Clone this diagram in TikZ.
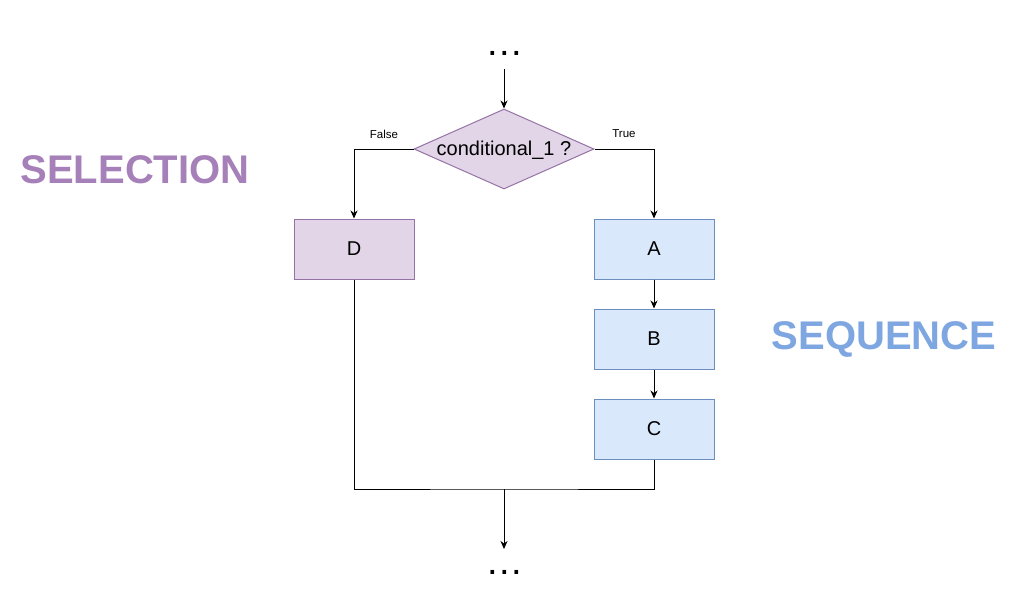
\documentclass[tikz,border=0pt]{standalone}
\usepackage{fontspec}
\setmainfont{Liberation Sans}
\usetikzlibrary{arrows.meta,shapes.geometric}
\definecolor{purpfill}{HTML}{E1D5E7}
\definecolor{purpline}{HTML}{9673A6}
\definecolor{bluefill}{HTML}{DAE8FC}
\definecolor{blueline}{HTML}{6C8EBF}
\definecolor{seltext}{HTML}{A680B8}
\definecolor{seqtext}{HTML}{7EA6E0}
\newcommand{\spaceddots}{.\hspace{1.3pt}.\hspace{1.3pt}.}
\begin{document}
\begin{tikzpicture}[x=1pt,y=-1pt,
  stepbox/.style={draw, line width=1pt, minimum width=120pt, minimum height=60pt,
    inner sep=0pt, font=\fontsize{20}{24}\selectfont},
  selbox/.style={stepbox, fill=purpfill, draw=purpline},
  seqbox/.style={stepbox, fill=bluefill, draw=blueline},
  flow/.style={line width=1pt, black},
  arr/.style={flow, -{Stealth[length=8pt,width=7pt,inset=2.5pt]}},
  branch/.style={font=\fontsize{11.5}{13}\selectfont},
  title/.style={font=\bfseries\fontsize{40}{46}\selectfont, anchor=base},
  more/.style={font=\fontsize{38}{44}\selectfont, anchor=base}]
\useasboundingbox (0,0) rectangle (1017,608);

% continuation marks above and below
\node[more] (topdots) at (505,55) {\spaceddots};
\node[more] (botdots) at (505,574) {\spaceddots};
\coordinate (topin) at (504,69);
\coordinate (botout) at (504,549);

% decision
\node[diamond, draw=purpline, fill=purpfill, line width=1pt, inner sep=0pt,
  minimum width=180pt, minimum height=80pt] (cond) at (504,149) {};
\node[font=\fontsize{20}{24}\selectfont] (condtext) at (504,150.5) {conditional\_1 ?};
\node[branch] (falselbl) at (384,134) {False};
\node[branch] (truelbl) at (624,134) {True};

% branches
\node[selbox] (D) at (354,249) {D};
\node[seqbox] (A) at (654,249) {A};
\node[seqbox] (B) at (654,339) {B};
\node[seqbox] (C) at (654,429) {C};

% section titles
\node[title, text=seltext] (seltitle) at (135,183) {SELECTION};
\node[title, text=seqtext] (seqtitle) at (884,349) {SEQUENCE};

% connectors
\coordinate (join) at (504,489);
\draw[arr] (topin) -- (cond.north);
\draw[arr] (cond.west) -| (D.north);
\draw[arr] (cond.east) -| (A.north);
\draw[arr] (A) -- (B);
\draw[arr] (B) -- (C);
\draw[flow] (D.south) |- (join) -| (C.south);
\draw[arr] (join) -- (botout);
\end{tikzpicture}
\end{document}
